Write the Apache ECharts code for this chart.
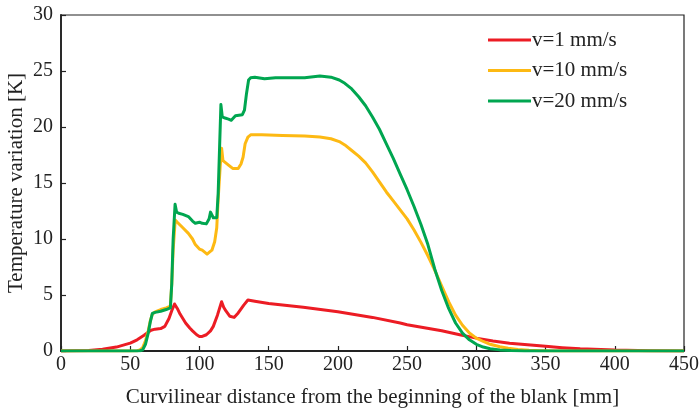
<!DOCTYPE html>
<html>
<head>
<meta charset="utf-8">
<script src="https://cdn.jsdelivr.net/npm/echarts@6/dist/echarts.min.js"></script>
<style>
  html, body { margin: 0; padding: 0; background: #fff; }
  #chart { width: 699px; height: 408px; }
</style>
</head>
<body>
<div id="chart"></div>
<script>
// distance along the blank [mm] and temperature variation [K]
const seriesNames = ['v=1 mm/s', 'v=10 mm/s', 'v=20 mm/s'];
const xTicks = [0, 50, 100, 150, 200, 250, 300, 350, 400, 450];
const yTicks = [0, 5, 10, 15, 20, 25, 30];

const redX = [0, 20, 30, 40, 50, 55, 60, 65, 68, 72, 75, 78, 80, 82, 84, 86, 88, 90, 93, 95, 98, 100, 102, 105, 108, 110, 113, 116, 117.5, 119, 122, 125, 128, 132, 135, 140, 150, 175, 200, 225, 245, 250, 275, 288, 300, 312, 324, 337, 350, 362, 375, 400, 425, 450];
const redY = [0, 0.05, 0.15, 0.35, 0.7, 1.0, 1.4, 1.85, 1.95, 2.0, 2.2, 2.9, 3.6, 4.2, 3.8, 3.3, 2.9, 2.5, 2.05, 1.8, 1.45, 1.3, 1.3, 1.45, 1.8, 2.2, 3.2, 4.4, 3.9, 3.6, 3.1, 3.0, 3.4, 4.1, 4.55, 4.45, 4.25, 3.9, 3.5, 3.0, 2.5, 2.35, 1.8, 1.45, 1.15, 0.9, 0.7, 0.55, 0.42, 0.3, 0.2, 0.08, 0.03, 0];

const yellowX = [0, 50, 55, 57, 59, 61, 63, 64.5, 66, 68, 72, 76, 79, 80, 81, 82.5, 84, 88, 92, 95, 97, 100, 102, 104, 105.5, 107, 109, 111, 112.5, 113.5, 115, 116, 117, 119, 121, 124, 128, 130, 131.5, 133, 135, 137, 145, 160, 176, 187, 195, 201, 205, 210, 215, 220, 225, 230, 235, 240, 245, 250, 255, 260, 265, 270, 275, 280, 285, 290, 295, 300, 305, 310, 317, 323, 330, 338, 346, 360, 450];
const yellowY = [0, 0, 0.02, 0.1, 0.3, 0.9, 1.8, 2.7, 3.3, 3.5, 3.7, 3.85, 4.0, 6, 9, 11.7, 11.5, 11.0, 10.5, 10.0, 9.5, 9.1, 9.0, 8.8, 8.65, 8.8, 9.0, 9.75, 11, 13.5, 16.5, 18.1, 17.0, 16.8, 16.6, 16.3, 16.3, 16.7, 17.3, 18.5, 19.1, 19.3, 19.3, 19.25, 19.2, 19.1, 18.95, 18.7, 18.4, 17.9, 17.4, 16.8, 16.0, 15.1, 14.2, 13.4, 12.6, 11.8, 10.8, 9.7, 8.5, 7.2, 5.8, 4.4, 3.2, 2.3, 1.6, 1.15, 0.85, 0.6, 0.38, 0.24, 0.13, 0.06, 0.03, 0, 0];

const greenX = [0, 50, 55, 57, 59, 61, 63, 64.5, 66, 68, 72, 76, 79, 80, 81, 82.4, 83.5, 85, 88, 92, 95, 97, 100, 102, 105, 107, 108, 110, 112.5, 113.5, 114.5, 115.5, 116.5, 118.5, 121, 123, 126, 131, 132.5, 134, 135.5, 137, 140, 147, 155, 176, 187, 195, 201, 205, 210, 215, 220, 225, 230, 235, 240, 245, 250, 255, 260, 265, 270, 275, 280, 285, 290, 295, 300, 305, 310, 317, 325, 335, 450];
const greenY = [0, 0, 0, 0.02, 0.1, 0.6, 1.6, 2.6, 3.35, 3.45, 3.55, 3.7, 3.85, 6, 10, 13.1, 12.4, 12.3, 12.2, 12.0, 11.6, 11.4, 11.5, 11.4, 11.35, 11.8, 12.4, 11.9, 11.9, 14, 18, 22.0, 20.9, 20.8, 20.7, 20.6, 21.0, 21.1, 21.5, 23, 24.2, 24.4, 24.45, 24.3, 24.4, 24.4, 24.55, 24.45, 24.2, 23.9, 23.4, 22.7, 21.9, 20.9, 19.8, 18.5, 17.2, 15.8, 14.4, 12.9, 11.3, 9.5, 7.3, 5.4, 3.8, 2.5, 1.6, 1.0, 0.6, 0.35, 0.2, 0.1, 0.04, 0.01, 0];

const lineColors = ['#ec1c24', '#fdb913', '#00a650'];

function pairs(xs, ys) {
  return xs.map((x, i) => [x, ys[i]]);
}

const font = 'Liberation Serif';
const chart = echarts.init(document.getElementById('chart'));

let option = {
  animation: false,
  textStyle: {fontFamily: font, color: '#222'},
  grid: {
    left: 61, right: 15, top: 15, bottom: 57,
    outerBoundsMode: 'none',
    containLabel: false,
    show: true,
    borderColor: '#222',
    borderWidth: 1.2
  },
  legend: {
    orient: 'vertical',
    left: 483,
    top: 24,
    itemWidth: 43,
    itemHeight: 3,
    itemGap: 8.5,
    icon: 'rect',
    data: seriesNames,
    textStyle: {fontFamily: font, fontSize: 21, color: '#222', lineHeight: 22, padding: [0, 0, 0, -4]}
  },
  xAxis: {
    type: 'value',
    min: 0,
    max: 450,
    interval: 50,
    name: 'Curvilinear distance from the beginning of the blank [mm]',
    nameLocation: 'middle',
    nameGap: 36,
    nameMoveOverlap: false,
    nameTextStyle: {fontFamily: font, fontSize: 21, color: '#222'},
    axisLine: {lineStyle: {color: '#222', width: 1.8}},
    axisTick: {inside: true, length: 5, lineStyle: {color: '#222', width: 1.2}},
    axisLabel: {
      fontFamily: font, fontSize: 20, color: '#222', margin: 4,
      formatter: v => xTicks.includes(v) ? String(v) : ''
    },
    splitLine: {show: false}
  },
  yAxis: {
    type: 'value',
    min: 0,
    max: 30,
    interval: 5,
    name: 'Temperature variation [K]',
    nameLocation: 'middle',
    nameGap: 34,
    nameMoveOverlap: false,
    nameTextStyle: {fontFamily: font, fontSize: 21, color: '#222'},
    axisLine: {show: true, lineStyle: {color: '#222', width: 1.8}},
    axisTick: {show: true, inside: true, length: 5, lineStyle: {color: '#222', width: 1.2}},
    axisLabel: {
      fontFamily: font, fontSize: 20, color: '#222', margin: 8,
      formatter: v => yTicks.includes(v) ? String(v) : ''
    },
    splitLine: {show: false}
  },
  series: [
    {name: seriesNames[0], type: 'line', data: pairs(redX, redY)},
    {name: seriesNames[1], type: 'line', data: pairs(yellowX, yellowY)},
    {name: seriesNames[2], type: 'line', data: pairs(greenX, greenY)}
  ].map((s, i) => Object.assign(s, {
    showSymbol: false,
    smooth: false,
    color: lineColors[i],
    lineStyle: {color: lineColors[i], width: 3, join: 'round'},
    z: 2 + i
  }))
};

chart.setOption(option);
</script>
</body>
</html>
